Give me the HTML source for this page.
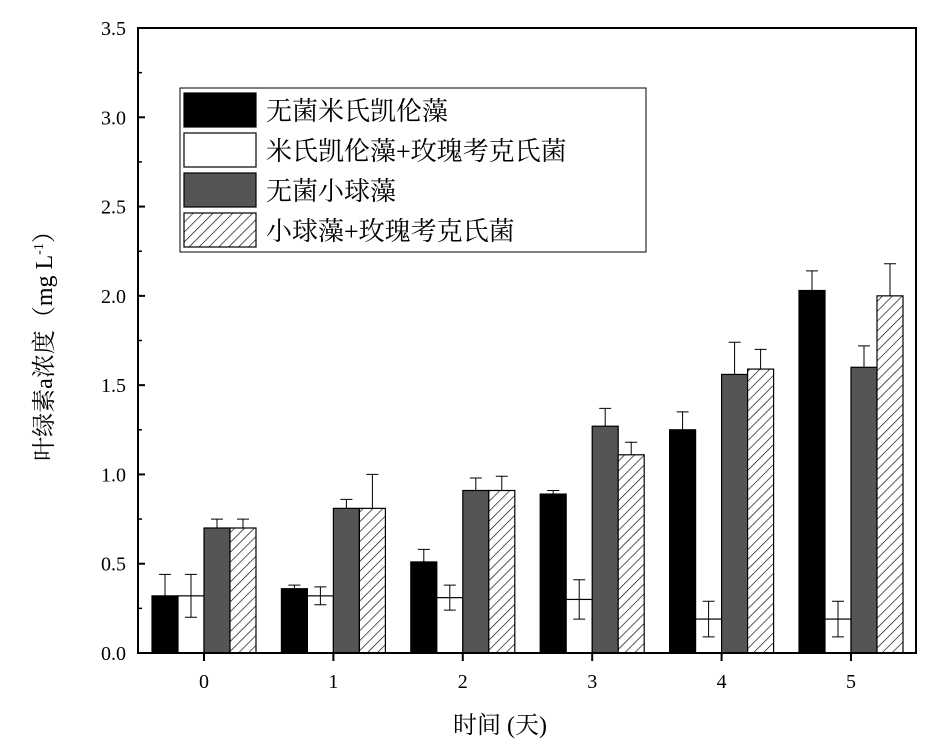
<!DOCTYPE html>
<html><head><meta charset="utf-8"><style>
body{margin:0;background:#fff}
svg text{font-family:"Liberation Serif","Noto Serif CJK SC","Noto Sans CJK SC",serif;fill:#000}
</style></head><body>
<svg id="chart" width="932" height="749" viewBox="0 0 932 749" xmlns="http://www.w3.org/2000/svg">
<defs>
<pattern id="hatch" patternUnits="userSpaceOnUse" width="7" height="7" patternTransform="rotate(45)">
<rect width="7" height="7" fill="#fff"/><line x1="0" y1="0" x2="0" y2="7" stroke="#000" stroke-width="1.3"/>
</pattern>
</defs>
<g id="plot"></g>
</svg>
<script>
const categories=["0","1","2","3","4","5"];
const seriesNames=["无菌米氏凯伦藻","米氏凯伦藻+玫瑰考克氏菌","无菌小球藻","小球藻+玫瑰考克氏菌"];
const s1=[0.32,0.36,0.51,0.89,1.25,2.03];
const s2=[0.32,0.32,0.31,0.30,0.19,0.19];
const s3=[0.70,0.81,0.91,1.27,1.56,1.60];
const s4=[0.70,0.81,0.91,1.11,1.59,2.00];
const e1=[0.12,0.02,0.07,0.02,0.10,0.11];
const e2=[0.12,0.05,0.07,0.11,0.10,0.10];
const e3=[0.05,0.05,0.07,0.10,0.18,0.12];
const e4=[0.05,0.19,0.08,0.07,0.11,0.18];
const yTicks=[0,0.5,1.0,1.5,2.0,2.5,3.0,3.5];
const yTickLabels=["0.0","0.5","1.0","1.5","2.0","2.5","3.0","3.5"];

const L=138,R=916,T=28,B=653,yMax=3.5;
const y=v=>B-(v/yMax)*(B-T);
const x0=204,dx=129.4;
const xc=i=>x0+i*dx;
const bw=26;
const fills=["#000","#fff","#555","url(#hatch)"];
const series=[s1,s2,s3,s4],errs=[e1,e2,e3,e4];
const NS="http://www.w3.org/2000/svg";
const g=document.getElementById('plot');
function mk(tag,attrs,parent){const e=document.createElementNS(NS,tag);for(const k in attrs)e.setAttribute(k,attrs[k]);(parent||g).appendChild(e);return e;}

series.forEach((s,si)=>{
 s.forEach((v,i)=>{
  const bx=xc(i)-2*bw+si*bw;
  const r=mk('rect',{x:bx,y:y(v),width:bw,height:B-y(v),fill:fills[si],stroke:"#000","stroke-width":1.2});
  
  
  const cx=bx+bw/2,e=errs[si][i];
  const top=y(v+e),bot=(si==1)?y(v-e):y(v);
  const eb=mk('path',{d:`M${cx},${bot}V${top}M${cx-6},${top}H${cx+6}`+(si==1?`M${cx-6},${bot}H${cx+6}`:''),stroke:"#000","stroke-width":1,fill:"none"});
  
  
 });
});
// frame
const fr=mk('rect',{x:L,y:T,width:R-L,height:B-T,fill:"none",stroke:"#000","stroke-width":2});


yTicks.forEach((t,i)=>{
 mk('line',{x1:L,x2:L+7,y1:y(t),y2:y(t),stroke:"#000","stroke-width":2});
 if(i<yTicks.length-1)mk('line',{x1:L,x2:L+4,y1:y(t+0.25),y2:y(t+0.25),stroke:"#000","stroke-width":1.5});
 const tx=mk('text',{x:L-12,y:y(t)+7,"text-anchor":"end","font-size":20});
 tx.textContent=yTickLabels[i];
 
 
});
categories.forEach((c,i)=>{
 mk('line',{x1:xc(i),x2:xc(i),y1:B,y2:B+8,stroke:"#000","stroke-width":2});
 const tx=mk('text',{x:xc(i),y:B+35,"text-anchor":"middle","font-size":20});
 tx.textContent=c;
 
 
});
const xt=mk('text',{x:500,y:733,"text-anchor":"middle","font-size":24});
xt.textContent="时间 (天)";


const yt=mk('text',{x:0,y:0,"text-anchor":"middle","font-size":24,transform:"translate(52,340) rotate(-90)"});
yt.innerHTML='叶绿素a浓度（mg L<tspan font-size="14" dy="-9">-1</tspan><tspan dy="9">）</tspan>';


// legend
const lg=mk('g',{});


mk('rect',{x:180,y:88,width:466,height:164,fill:"#fff",stroke:"#000","stroke-width":1},lg);
seriesNames.forEach((n,i)=>{
 const yy=91+i*40;
 const sw=mk('rect',{x:184,y:yy+2,width:72,height:34,fill:fills[i],stroke:"#000","stroke-width":1.2},lg);
 
 
 const t=mk('text',{x:266,y:yy+29,"font-size":26},lg);
 t.textContent=n;
 
 
});
</script>
</body></html>
